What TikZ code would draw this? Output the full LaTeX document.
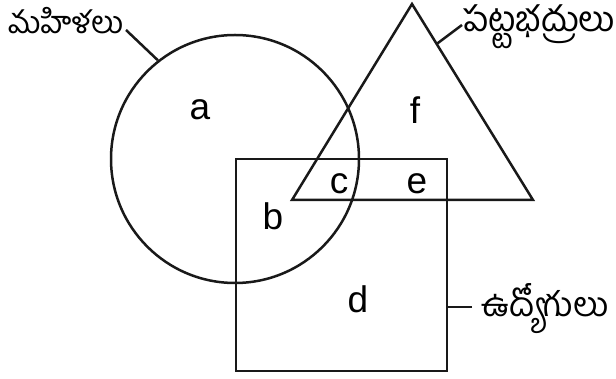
\documentclass[tikz,border=0pt]{standalone}
\usepackage{fontspec}
\usetikzlibrary{calc}
\setmainfont{Liberation Sans}
\newfontfamily\telugufont[Script=Telugu]{Hind Guntur}
\begin{document}
\begin{tikzpicture}[x=1pt,y=-1pt,
  setshape/.style={draw=black!90, line width=2.5pt},
  lead/.style={draw=black!90, line width=2.5pt},
  letter/.style={font=\fontsize{37}{37}\selectfont, inner sep=0pt},
  tel/.style={font=\telugufont\fontsize{#1}{#1}\selectfont, inner sep=0pt},
  tel/.default=35]
\useasboundingbox (0,0) rectangle (616,379);
% shapes
\node[setshape, circle, minimum size=248pt, inner sep=0pt] (M) at (235,159) {};
\node[setshape, rectangle, minimum width=211pt, minimum height=212pt, inner sep=0pt] (U) at (341.5,265) {};
\coordinate (T1) at (412,4);
\coordinate (T2) at (292,200);
\coordinate (T3) at (533,200);
\draw[setshape, line join=miter] (T1) -- (T2) -- (T3) -- cycle;
% region letters
\node[letter] (a) at (200,110) {a};
\node[letter] (f) at (415,110) {f};
\node[letter] (c) at (339,184) {c};
\node[letter] (e) at (417,184) {e};
\node[letter] (b) at (273,216) {b};
\node[letter] (d) at (358,299) {d};
% set names
\node[tel=31] (mn) at (66,21) {మహిళలు};
\node[tel=35] (pn) at (539,27) {పట్టభద్రులు};
\node[tel=34] (un) at (545,309) {ఉద్యోగులు};
% leaders
\coordinate (mL) at (126,30);
\coordinate (pL) at (462,25);
\coordinate (uL) at (472,307);
\coordinate (tS) at ($(T1)!0.204!(T3)$);
\draw[lead] (mL) -- (M.128);
\draw[lead] (pL) -- (tS);
\draw[lead] (uL) -- (U.east |- uL);
\end{tikzpicture}
\end{document}
